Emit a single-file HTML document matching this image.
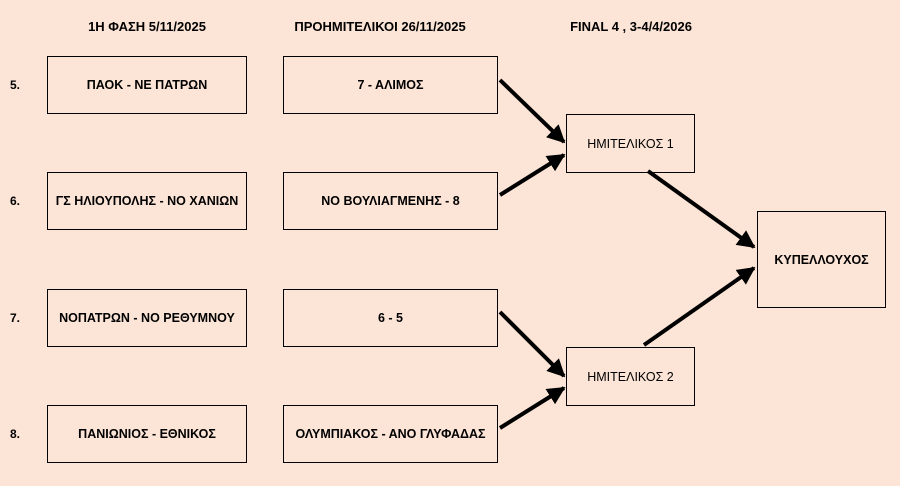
<!DOCTYPE html>
<html><head><meta charset="utf-8"><style>
body{margin:0;width:900px;height:486px;background:#fce4d6;position:relative;overflow:hidden;font-family:"Liberation Sans",sans-serif;color:#000}
.b{position:absolute;border:1.5px solid #000;box-sizing:border-box;display:flex;align-items:center;justify-content:center;font-size:12.5px;font-weight:bold}
.n{font-weight:normal}
.t{position:absolute;font-size:13px;font-weight:bold;transform:translateX(-50%);white-space:nowrap}
.l{position:absolute;font-size:12px;font-weight:bold;left:10px}
svg{position:absolute;left:0;top:0}
</style></head><body>
<div class="t" style="left:147px;top:19px">1Η ΦΑΣΗ 5/11/2025</div>
<div class="t" style="left:380px;top:19px">ΠΡΟΗΜΙΤΕΛΙΚΟΙ 26/11/2025</div>
<div class="t" style="left:631px;top:19px">FINAL 4 , 3-4/4/2026</div>
<div class="l" style="top:78px">5.</div>
<div class="l" style="top:194px">6.</div>
<div class="l" style="top:311px">7.</div>
<div class="l" style="top:427px">8.</div>
<div class="b" style="left:47px;top:56px;width:200px;height:58px">ΠΑΟΚ - ΝΕ ΠΑΤΡΩΝ</div>
<div class="b" style="left:47px;top:172px;width:200px;height:58px">ΓΣ ΗΛΙΟΥΠΟΛΗΣ - ΝΟ ΧΑΝΙΩΝ</div>
<div class="b" style="left:47px;top:289px;width:200px;height:58px">ΝΟΠΑΤΡΩΝ - ΝΟ ΡΕΘΥΜΝΟΥ</div>
<div class="b" style="left:47px;top:405px;width:200px;height:58px">ΠΑΝΙΩΝΙΟΣ - ΕΘΝΙΚΟΣ</div>
<div class="b" style="left:283px;top:56px;width:215px;height:58px">7 - ΑΛΙΜΟΣ</div>
<div class="b" style="left:283px;top:172px;width:215px;height:58px">ΝΟ ΒΟΥΛΙΑΓΜΕΝΗΣ - 8</div>
<div class="b" style="left:283px;top:289px;width:215px;height:58px">6 - 5</div>
<div class="b" style="left:283px;top:405px;width:215px;height:58px">ΟΛΥΜΠΙΑΚΟΣ - ΑΝΟ ΓΛΥΦΑΔΑΣ</div>
<div class="b n" style="left:566px;top:114px;width:129px;height:59px">ΗΜΙΤΕΛΙΚΟΣ 1</div>
<div class="b n" style="left:566px;top:347px;width:129px;height:59px">ΗΜΙΤΕΛΙΚΟΣ 2</div>
<div class="b" style="left:757px;top:211px;width:129px;height:97px">ΚΥΠΕΛΛΟΥΧΟΣ</div>
<svg width="900" height="486">
<defs><marker id="a" viewBox="0 0 10 10" refX="9" refY="5" markerWidth="4.5" markerHeight="4.5" orient="auto"><path d="M0,0L10,5L0,10z"/></marker></defs>
<g stroke="#000" stroke-width="4" marker-end="url(#a)">
<line x1="500" y1="80" x2="564" y2="142"/>
<line x1="500" y1="195" x2="564" y2="155"/>
<line x1="500" y1="312" x2="564" y2="376"/>
<line x1="500" y1="428" x2="564" y2="388"/>
<line x1="648" y1="171" x2="754" y2="247"/>
<line x1="644" y1="345" x2="754" y2="268"/>
</g></svg>
</body></html>
